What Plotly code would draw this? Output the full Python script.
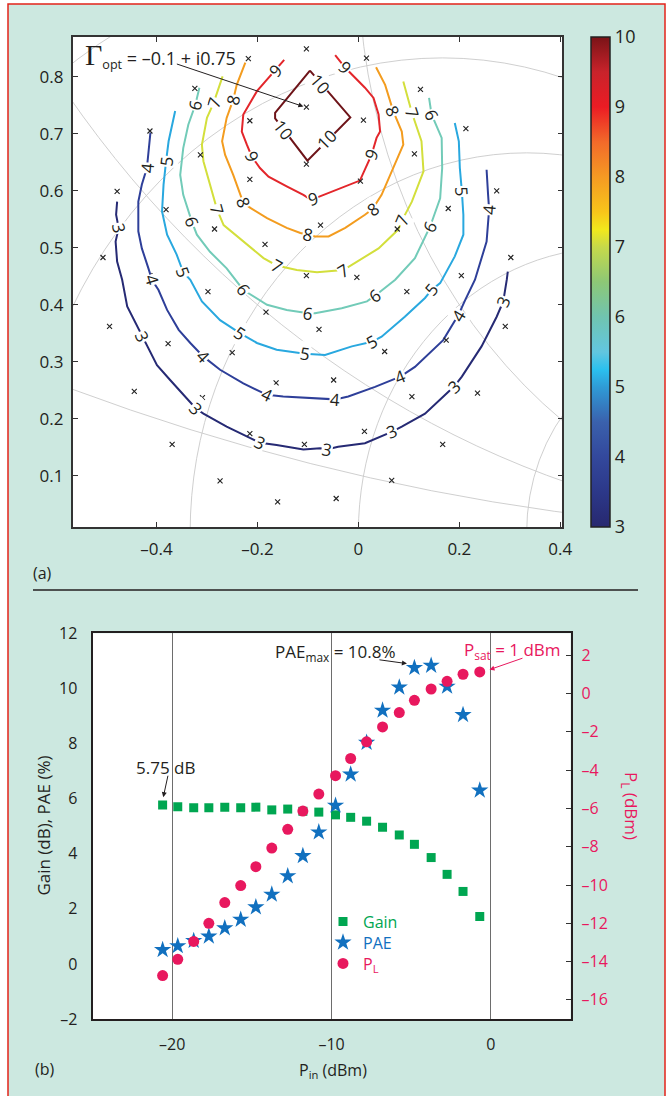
import math
import plotly.graph_objects as go

W, H = 668, 1096
FONT = "Open Sans"
INK = "#231f20"

# ---------------- panel (a): load-pull contours ----------------
levels = [3, 4, 5, 6, 7, 8, 9, 10]
level_colors = ["#262a74", "#2e3f99", "#29a8df", "#72cbb8",
                "#d3df3c", "#f39c1f", "#e3262b", "#6e1419"]

contour_3 = [(-0.478, 0.581), (-0.480, 0.558), (-0.475, 0.535), (-0.481, 0.511), (-0.478, 0.476),
             (-0.468, 0.444), (-0.458, 0.397), (-0.438, 0.362), (-0.429, 0.344), (-0.416, 0.321),
             (-0.399, 0.294), (-0.373, 0.268), (-0.337, 0.233), (-0.322, 0.218), (-0.307, 0.209),
             (-0.261, 0.186), (-0.214, 0.166), (-0.195, 0.158), (-0.162, 0.154), (-0.109, 0.146),
             (-0.076, 0.148), (-0.063, 0.146), (-0.040, 0.151), (0.013, 0.157), (0.066, 0.177),
             (0.086, 0.186), (0.132, 0.209), (0.178, 0.247), (0.190, 0.257), (0.205, 0.274),
             (0.244, 0.327), (0.274, 0.379), (0.287, 0.406), (0.294, 0.444), (0.296, 0.458)]
contour_4 = [(-0.412, 0.702), (-0.416, 0.669), (-0.419, 0.640), (-0.429, 0.611), (-0.436, 0.581),
             (-0.436, 0.529), (-0.429, 0.499), (-0.416, 0.464), (-0.409, 0.444), (-0.396, 0.426),
             (-0.379, 0.391), (-0.356, 0.356), (-0.333, 0.333), (-0.307, 0.309), (-0.274, 0.286),
             (-0.228, 0.262), (-0.181, 0.242), (-0.149, 0.239), (-0.076, 0.236), (-0.046, 0.234),
             (-0.020, 0.239), (0.033, 0.256), (0.083, 0.274), (0.112, 0.291), (0.168, 0.338),
             (0.198, 0.382), (0.212, 0.409), (0.231, 0.444), (0.254, 0.511), (0.257, 0.546),
             (0.259, 0.567), (0.257, 0.593), (0.254, 0.637)]
contour_5 = [(-0.363, 0.740), (-0.376, 0.687), (-0.381, 0.652), (-0.386, 0.611), (-0.389, 0.564),
             (-0.379, 0.523), (-0.360, 0.488), (-0.347, 0.457), (-0.333, 0.444), (-0.310, 0.406),
             (-0.274, 0.373), (-0.234, 0.350), (-0.201, 0.333), (-0.162, 0.321), (-0.106, 0.314),
             (-0.066, 0.312), (-0.013, 0.327), (0.027, 0.335), (0.046, 0.344), (0.092, 0.379),
             (0.132, 0.412), (0.145, 0.426), (0.162, 0.438), (0.191, 0.485), (0.208, 0.523),
             (0.208, 0.558), (0.205, 0.599), (0.201, 0.640), (0.199, 0.687), (0.191, 0.719)]
contour_6 = [(-0.315, 0.781), (-0.323, 0.751), (-0.337, 0.716), (-0.347, 0.675), (-0.353, 0.628),
             (-0.347, 0.593), (-0.330, 0.546), (-0.320, 0.523), (-0.294, 0.493), (-0.261, 0.464),
             (-0.228, 0.426), (-0.181, 0.400), (-0.142, 0.391), (-0.099, 0.385), (-0.086, 0.385),
             (-0.033, 0.394), (0.017, 0.406), (0.033, 0.416), (0.073, 0.444), (0.112, 0.482),
             (0.142, 0.537), (0.162, 0.587), (0.166, 0.640), (0.165, 0.693), (0.145, 0.734),
             (0.140, 0.763)]
contour_7 = [(-0.269, 0.801), (-0.287, 0.754), (-0.300, 0.728), (-0.310, 0.681), (-0.307, 0.652),
             (-0.294, 0.611), (-0.280, 0.567), (-0.267, 0.540), (-0.228, 0.511), (-0.188, 0.482),
             (-0.162, 0.469), (-0.122, 0.461), (-0.082, 0.457), (-0.030, 0.461), (-0.013, 0.470),
             (0.040, 0.499), (0.079, 0.532), (0.087, 0.549), (0.106, 0.581), (0.129, 0.634),
             (0.125, 0.687), (0.106, 0.737), (0.089, 0.792)]
contour_8 = [(-0.224, 0.825), (-0.241, 0.786), (-0.248, 0.760), (-0.261, 0.728), (-0.270, 0.687),
             (-0.264, 0.663), (-0.248, 0.628), (-0.228, 0.579), (-0.214, 0.570), (-0.181, 0.552),
             (-0.142, 0.535), (-0.115, 0.526), (-0.099, 0.523), (-0.086, 0.520), (-0.059, 0.520),
             (-0.026, 0.535), (0.013, 0.558), (0.028, 0.568), (0.046, 0.593), (0.066, 0.634),
             (0.089, 0.681), (0.086, 0.704), (0.069, 0.740), (0.053, 0.786), (0.035, 0.817)]
contour_9 = [(-0.147, 0.830), (-0.165, 0.812), (-0.201, 0.775), (-0.228, 0.734), (-0.231, 0.704),
             (-0.221, 0.681), (-0.211, 0.660), (-0.195, 0.640), (-0.178, 0.625), (-0.142, 0.608),
             (-0.109, 0.593), (-0.095, 0.585), (-0.080, 0.589), (0.003, 0.618), (0.026, 0.663),
             (0.036, 0.693), (0.043, 0.704), (0.040, 0.734), (0.030, 0.763), (0.013, 0.781),
             (-0.013, 0.804), (-0.026, 0.816), (-0.046, 0.838)]
contour_10 = [(-0.096, 0.811), (-0.016, 0.729), (-0.101, 0.653), (-0.165, 0.727),
              (-0.165, 0.737), (-0.096, 0.811)]
contours = [contour_3, contour_4, contour_5, contour_6, contour_7, contour_8, contour_9, contour_10]

# inline contour labels (level, x, y)
contour_labels = [
    (10, -0.076, 0.789), (10, -0.149, 0.708), (10, -0.063, 0.690),
    (9, -0.165, 0.812), (9, -0.211, 0.660), (9, -0.090, 0.587), (9, 0.026, 0.663), (9, -0.026, 0.816),
    (8, -0.248, 0.760), (8, -0.228, 0.579), (8, -0.099, 0.523), (8, 0.028, 0.568), (8, 0.069, 0.740),
    (7, -0.287, 0.754), (7, -0.280, 0.567), (7, -0.162, 0.469), (7, -0.030, 0.461), (7, 0.087, 0.549),
    (7, 0.106, 0.737),
    (6, -0.323, 0.751), (6, -0.330, 0.546), (6, -0.228, 0.426), (6, -0.099, 0.385), (6, 0.033, 0.416),
    (6, 0.142, 0.537), (6, 0.145, 0.734),
    (5, -0.381, 0.652), (5, -0.347, 0.457), (5, -0.234, 0.350), (5, -0.106, 0.314), (5, 0.027, 0.335),
    (5, 0.145, 0.426), (5, 0.205, 0.599),
    (4, -0.419, 0.640), (4, -0.409, 0.444), (4, -0.307, 0.309), (4, -0.181, 0.242), (4, -0.046, 0.234),
    (4, 0.083, 0.274), (4, 0.198, 0.382), (4, 0.259, 0.567),
    (3, -0.475, 0.535), (3, -0.429, 0.344), (3, -0.322, 0.218), (3, -0.195, 0.158), (3, -0.063, 0.146),
    (3, 0.066, 0.177), (3, 0.190, 0.257), (3, 0.287, 0.406),
]

# measured load-impedance points (x marks)
meas_x = [-0.218, -0.103, 0.016, -0.324, 0.123, -0.103, -0.215, 0.010, -0.413, 0.213,
          -0.313, 0.111, -0.103, -0.215, 0.004, -0.478, 0.274, -0.381, 0.178, -0.075,
          -0.285, 0.077, -0.185, -0.506, 0.302, -0.103, -0.003, -0.405, 0.204, -0.298,
          0.096, -0.493, -0.183, 0.291, -0.377, -0.078, 0.174, -0.250, 0.052, -0.444,
          -0.163, -0.049, -0.309, 0.106, 0.236, -0.215, 0.012, -0.369, -0.107, 0.167,
          -0.274, 0.066, -0.160, -0.044]
meas_y = [0.832, 0.849, 0.833, 0.780, 0.778, 0.747, 0.723, 0.724, 0.705, 0.709,
          0.663, 0.665, 0.647, 0.620, 0.617, 0.599, 0.600, 0.567, 0.569, 0.540,
          0.533, 0.533, 0.506, 0.483, 0.483, 0.451, 0.448, 0.451, 0.451, 0.423,
          0.423, 0.362, 0.387, 0.362, 0.332, 0.357, 0.338, 0.316, 0.318, 0.248,
          0.263, 0.268, 0.237, 0.239, 0.245, 0.174, 0.178, 0.155, 0.155, 0.155,
          0.091, 0.092, 0.054, 0.060]

smith_resistance = [0, 0.2, 0.5, 1, 2]
smith_reactance = [0.2, 0.5, 1]
gamma_opt = (-0.1, 0.75)

colorscale = [
    [0.0, "#27286f"], [0.0714, "#2c3889"], [0.1429, "#33489c"], [0.2143, "#3a61ad"],
    [0.2857, "#2f9bd6"], [0.3214, "#2bc0ef"], [0.3571, "#62c6e0"], [0.4286, "#70c4b0"],
    [0.5, "#8dc876"], [0.5714, "#c6d94a"], [0.6071, "#f2e81c"], [0.6429, "#f8c51a"],
    [0.7143, "#f59a23"], [0.7857, "#f26a2a"], [0.8571, "#ec1c24"], [0.9286, "#c8232b"],
    [1.0, "#7a1317"],
]

# ---------------- panel (b): power sweep ----------------
pin = [-20.6, -19.65, -18.65, -17.7, -16.7, -15.7, -14.75, -13.75, -12.75, -11.8, -10.8,
       -9.75, -8.8, -7.8, -6.8, -5.75, -4.8, -3.75, -2.75, -1.75, -0.7]
gain = [5.77, 5.70, 5.67, 5.67, 5.69, 5.67, 5.69, 5.59, 5.62, 5.54, 5.51,
        5.41, 5.32, 5.18, 4.96, 4.68, 4.34, 3.86, 3.25, 2.63, 1.72]
pae = [0.51, 0.65, 0.84, 1.00, 1.30, 1.61, 2.06, 2.52, 3.19, 3.92, 4.78,
       5.75, 6.88, 8.03, 9.20, 10.04, 10.75, 10.83, 10.07, 9.04, 6.30]
pl = [-14.73, -13.88, -12.95, -12.00, -10.92, -10.03, -9.04, -8.07, -7.09, -6.14, -5.25,
      -4.29, -3.39, -2.52, -1.74, -0.99, -0.35, 0.24, 0.64, 1.01, 1.13]

GREEN, BLUE, PINK = "#00a651", "#1170bf", "#e8185e"

# ---------------- layout geometry (pixels) ----------------
A_L, A_R, A_T, A_B = 72.7, 562.3, 37.0, 527.0
B_L, B_R, B_T, B_B = 92.5, 570.6, 633.3, 1019.0
AX_RANGE = [-0.566, 0.404]
AY_RANGE = [0.01, 0.87]


def P(x, y):
    return x / W, 1 - y / H


SX = (A_R - A_L) / (AX_RANGE[1] - AX_RANGE[0])
SY = (A_B - A_T) / (AY_RANGE[1] - AY_RANGE[0])


def label_angle(poly, lx, ly):
    best, ang = None, 0.0
    for (x1, y1), (x2, y2) in zip(poly[:-1], poly[1:]):
        ax_, ay_ = x1 * SX, -y1 * SY
        bx_, by_ = x2 * SX, -y2 * SY
        px_, py_ = lx * SX, -ly * SY
        dx, dy = bx_ - ax_, by_ - ay_
        L2 = dx * dx + dy * dy
        t = 0 if L2 == 0 else max(0, min(1, ((px_ - ax_) * dx + (py_ - ay_) * dy) / L2))
        d = math.hypot(ax_ + t * dx - px_, ay_ + t * dy - py_)
        if best is None or d < best:
            best = d
            ang = math.degrees(math.atan2(dy, dx))
    while ang > 90:
        ang -= 180
    while ang <= -90:
        ang += 180
    return ang


fig = go.Figure()

# contour lines
for lvl, poly, col in zip(levels, contours, level_colors):
    fig.add_trace(go.Scatter(
        x=[p[0] for p in poly], y=[p[1] for p in poly], mode="lines",
        line=dict(color=col, width=2), showlegend=False, hoverinfo="skip",
        xaxis="x", yaxis="y"))

# measurement points
fig.add_trace(go.Scatter(
    x=meas_x, y=meas_y, mode="markers",
    marker=dict(symbol="x-thin", size=5, line=dict(width=1.1, color="#222")),
    showlegend=False, hoverinfo="skip", xaxis="x", yaxis="y"))

# colorbar carrier
fig.add_trace(go.Scatter(
    x=[None] * len(levels), y=[None] * len(levels), mode="markers",
    marker=dict(color=levels, colorscale=colorscale, cmin=3, cmax=10, showscale=True,
                colorbar=dict(
                    x=590.6 / W, xanchor="left", xpad=0, y=1 - (A_T + A_B) / 2 / H,
                    yanchor="middle", ypad=0, len=(A_B - A_T) / H, lenmode="fraction",
                    thickness=19, outlinewidth=1.5, outlinecolor="#222",
                    tickvals=levels, ticks="",
                    tickfont=dict(family=FONT, size=18, color=INK))),
    showlegend=False, hoverinfo="skip", xaxis="x", yaxis="y"))

# panel (b) traces, each with its own legend row
fig.add_trace(go.Scatter(
    x=pin, y=gain, mode="markers", name="Gain", legend="legend",
    marker=dict(symbol="square", size=9, color=GREEN), xaxis="x2", yaxis="y2"))
fig.add_trace(go.Scatter(
    x=pin, y=pae, mode="markers", name="PAE", legend="legend2",
    marker=dict(symbol="star", size=13, color=BLUE), xaxis="x2", yaxis="y2"))
fig.add_trace(go.Scatter(
    x=pin, y=pl, mode="markers", name="P<sub>L</sub>", legend="legend3",
    marker=dict(symbol="circle", size=11, color=PINK), xaxis="x2", yaxis="y3"))

shapes = []
# page background + red border
shapes.append(dict(type="rect", xref="paper", yref="paper",
                   x0=8 / W, x1=665 / W, y0=-0.02, y1=1 - 4 / H,
                   fillcolor="#cce8e0", line=dict(color="#e2231a", width=1.5), layer="below"))
# white plot backgrounds
for xr, yr in (("x", "y"), ("x2", "y2")):
    shapes.append(dict(type="rect", xref=f"{xr} domain", yref=f"{yr} domain",
                       x0=0, x1=1, y0=0, y1=1, fillcolor="white",
                       line=dict(width=0), layer="below"))
# Smith chart grid
for r in smith_resistance:
    c, rad = r / (1 + r), 1 / (1 + r)
    shapes.append(dict(type="circle", xref="x", yref="y", x0=c - rad, x1=c + rad,
                       y0=-rad, y1=rad, line=dict(color="#c9c9c9", width=0.9), layer="below"))
for xv in smith_reactance:
    rad = 1 / xv
    shapes.append(dict(type="circle", xref="x", yref="y", x0=1 - rad, x1=1 + rad,
                       y0=0, y1=2 * rad, line=dict(color="#c9c9c9", width=0.9),
                       layer="below"))
# separator line
x0p, yp = P(33, 590)
x1p, _ = P(638, 590)
shapes.append(dict(type="line", xref="paper", yref="paper", x0=x0p, x1=x1p, y0=yp, y1=yp,
                   line=dict(color="#231f20", width=1.5)))

annotations = []
# contour labels
for lvl, lx, ly in contour_labels:
    poly = contours[levels.index(lvl)]
    annotations.append(dict(
        x=lx, y=ly, xref="x", yref="y", text=str(lvl), showarrow=False,
        xanchor="center", yanchor="middle",
        textangle=label_angle(poly, lx, ly), bgcolor="white", borderpad=0,
        font=dict(family=FONT, size=17, color=INK)))

# Gamma_opt annotation
gx, gy = P(83, 55)
annotations.append(dict(
    x=gx, y=gy, xref="paper", yref="paper", xanchor="left", yanchor="middle", showarrow=False,
    text="<span style='font-family:Liberation Serif;font-size:30px'>Γ</span>"
         "<sub>opt</sub> = –0.1 + i0.75",
    font=dict(family=FONT, size=18, color=INK)))
annotations.append(dict(
    x=gamma_opt[0] - 0.009, y=gamma_opt[1] - 0.002, xref="x", yref="y", ax=-128, ay=-43,
    text="", showarrow=True, arrowhead=2, arrowsize=1, arrowwidth=1, arrowcolor="#231f20",
    standoff=0))


def ptext(text, x, y, size=16, color=INK, angle=0):
    px_, py_ = P(x, y)
    annotations.append(dict(x=px_, y=py_, xref="paper", yref="paper", text=text,
                            xanchor="center", yanchor="middle",
                            showarrow=False, textangle=angle,
                            font=dict(family=FONT, size=size, color=color)))


ptext("(a)", 42.6, 573)
ptext("(b)", 44.8, 1069)
ptext("P<sub>in</sub> (dBm)", 332.6, 1070, size=16)
ptext("Gain (dB), PAE (%)", 42.6, 826, size=17, angle=-90)
ptext("P<sub>L</sub> (dBm)", 631, 806, size=17, color=PINK, angle=90)
ptext("5.75 dB", 165.5, 767, size=17)
ptext("PAE<sub>max</sub> = 10.8%", 335, 652, size=17)
ptext("P<sub>sat</sub> = 1 dBm", 512, 650, size=17, color=PINK)

# panel (b) arrows (head in data coords, tail as pixel offset)
for hx, hy, ax_, ay_, col in ((-20.56, 6.05, 5, -23, "#231f20"),
                              (-5.27, 10.90, -29, -4, "#231f20"),
                              (-0.09, 10.68, 34.5, -12, PINK)):
    annotations.append(dict(x=hx, y=hy, xref="x2", yref="y2", ax=ax_, ay=ay_, text="",
                            showarrow=True, arrowhead=2, arrowsize=1, arrowwidth=1,
                            arrowcolor=col, standoff=0))

tickfont = dict(family=FONT, size=17, color=INK)


def leg(row_y, color):
    return dict(x=P(323, 0)[0], y=P(0, row_y)[1], xanchor="left", yanchor="middle",
                bgcolor="rgba(0,0,0,0)", borderwidth=0,
                font=dict(family=FONT, size=16, color=color))


fig.update_layout(
    template="none",
    width=W, height=H, margin=dict(l=0, r=0, t=0, b=0, pad=0), autosize=False,
    paper_bgcolor="white", plot_bgcolor="rgba(0,0,0,0)",
    font=dict(family=FONT, color=INK),
    shapes=shapes, annotations=annotations,
    xaxis=dict(domain=[A_L / W, A_R / W], anchor="y", range=AX_RANGE, automargin=False,
               tickvals=[-0.4, -0.2, 0, 0.2, 0.4], ticktext=["–0.4", "–0.2", "0", "0.2", "0.4"],
               ticks="inside", ticklen=5, tickcolor="#333", showline=True, mirror="ticks",
               linecolor="#333", linewidth=1.6, showgrid=False, zeroline=False,
               tickfont=tickfont, ticklabelstandoff=6),
    yaxis=dict(domain=[1 - A_B / H, 1 - A_T / H], anchor="x", range=AY_RANGE, automargin=False,
               tickvals=[0.1, 0.2, 0.3, 0.4, 0.5, 0.6, 0.7, 0.8],
               ticks="inside", ticklen=5, tickcolor="#333", showline=True, mirror="ticks",
               linecolor="#333", linewidth=1.6, showgrid=False, zeroline=False,
               tickfont=tickfont, ticklabelstandoff=4),
    xaxis2=dict(domain=[B_L / W, B_R / W], anchor="y2", range=[-25, 5], automargin=False,
                tickvals=[-20, -10, 0], ticktext=["–20", "–10", "0"],
                ticks="", showline=True, mirror=True, linecolor="#231f20", linewidth=2,
                showgrid=True, gridcolor="#6d6d6d", gridwidth=1.2, zeroline=False,
                tickfont=dict(family=FONT, size=16, color=INK), ticklabelstandoff=10),
    yaxis2=dict(domain=[1 - B_B / H, 1 - B_T / H], anchor="x2", range=[-2, 12], automargin=False,
                tickvals=[-2, 0, 2, 4, 6, 8, 10, 12],
                ticktext=["–2", "0", "2", "4", "6", "8", "10", "12"],
                ticks="", showline=True, mirror=True, linecolor="#231f20", linewidth=2,
                showgrid=False, zeroline=False,
                tickfont=dict(family=FONT, size=16, color=INK), ticklabelstandoff=10),
    yaxis3=dict(overlaying="y2", anchor="x2", side="right", range=[-17, 3.15], automargin=False,
                tickvals=[-16, -14, -12, -10, -8, -6, -4, -2, 0, 2],
                ticktext=["–16", "–14", "–12", "–10", "–8", "–6", "–4", "–2", "0", "2"],
                ticks="inside", ticklen=5, tickcolor="#333", showline=False,
                showgrid=False, zeroline=False,
                tickfont=dict(family=FONT, size=16, color=PINK), ticklabelstandoff=10),
    legend=leg(921.5, GREEN),
    legend2=leg(942.5, BLUE),
    legend3=leg(963.5, PINK),
    showlegend=True,
)

fig.write_html("out.html", config={"displayModeBar": False},
               post_script="document.body.style.margin='0';document.body.style.overflow='hidden';")
